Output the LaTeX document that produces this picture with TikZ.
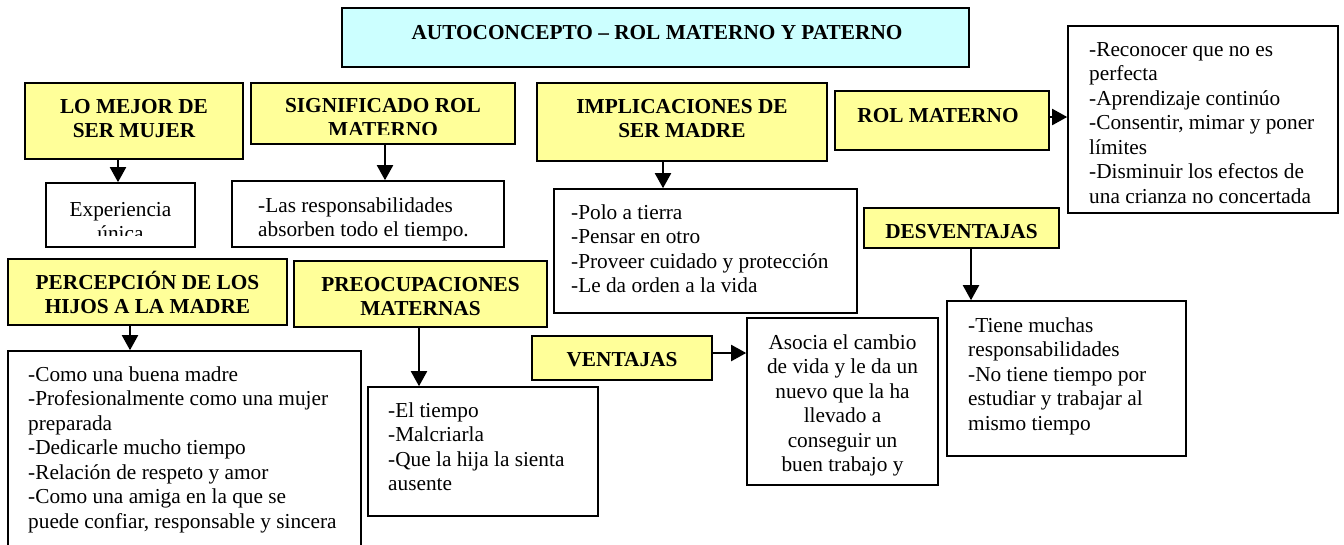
\documentclass[tikz,border=0pt]{standalone}
\usepackage{fontspec}
\setmainfont{Liberation Serif}
\usetikzlibrary{arrows.meta}
\definecolor{hdrfill}{HTML}{FFFF99}
\definecolor{titlefill}{HTML}{CCFFFF}
\newcommand\mytl[2]{\vtop{\hsize=#1\relax\parindent=0pt\parskip=0pt\raggedright #2\par}}
\newcommand\mytc[2]{\vtop{\hsize=#1\relax\parindent=0pt\parskip=0pt\centering #2\par}}
\tikzset{
  box/.style={draw, line width=1.6pt, fill=white, inner sep=0pt, rectangle},
  hdr/.style={box, fill=hdrfill},
  txt/.style={inner sep=0pt, font=\fontsize{21.3}{24.5}\selectfont},
  htxt/.style={inner sep=0pt, font=\fontsize{21.3}{24}\selectfont\bfseries},
  arr/.style={line width=2pt, -{Triangle[width=16pt,length=15pt]}}
}
\begin{document}
\begin{tikzpicture}[x=1pt,y=-1pt]
\clip (0,0) rectangle (1344,544);
\useasboundingbox (0,0) rectangle (1344,544);

% title
\node[box, fill=titlefill, minimum width=627pt, minimum height=59pt] (title) at (655.5,37.5) {};
\node[htxt, anchor=base] (titleT) at (657,39) {AUTOCONCEPTO -- ROL MATERNO Y PATERNO};

% header boxes
\node[hdr, minimum width=218pt, minimum height=76pt] (lomejor) at (134,121) {};
\node[htxt, anchor=base] (lomejorT) at (134,113) {\mytc{210pt}{LO MEJOR DE\\SER MUJER}};

\node[hdr, minimum width=264pt, minimum height=61pt] (signif) at (383,113.5) {};
\begin{scope}
\clip (signif.north west) rectangle ([yshift=10pt]signif.south east);
\node[htxt, anchor=base] (signifT) at (383,112) {\mytc{256pt}{SIGNIFICADO ROL\\MATERNO}};
\end{scope}

\node[hdr, minimum width=290pt, minimum height=78pt] (implic) at (682,122) {};
\node[htxt, anchor=base] (implicT) at (682,113) {\mytc{280pt}{IMPLICACIONES DE\\SER MADRE}};

\node[hdr, minimum width=214pt, minimum height=59pt] (rol) at (942,120.5) {};
\node[htxt, anchor=base] (rolT) at (938,122) {ROL MATERNO};

\node[hdr, minimum width=195pt, minimum height=40pt] (desv) at (961.5,228) {};
\node[htxt, anchor=base] (desvT) at (961.5,238) {DESVENTAJAS};

\node[hdr, minimum width=279pt, minimum height=66pt] (percep) at (147.5,292) {};
\node[htxt, anchor=base] (percepT) at (147.5,289) {\mytc{275pt}{PERCEPCIÓN DE LOS\\HIJOS A LA MADRE}};

\node[hdr, minimum width=253pt, minimum height=66pt] (preoc) at (420.5,294) {};
\node[htxt, anchor=base] (preocT) at (420.5,291) {\mytc{245pt}{PREOCUPACIONES\\MATERNAS}};

\node[hdr, minimum width=180pt, minimum height=44pt] (vent) at (622,358) {};
\node[htxt, anchor=base] (ventT) at (622,366) {VENTAJAS};

% content boxes
\node[box, minimum width=149pt, minimum height=64pt] (exp) at (120.5,215) {};
\begin{scope}
\clip (exp.north west) rectangle ([yshift=12pt]exp.south east);
\node[txt, anchor=base] (expT) at (120.5,216) {\mytc{145pt}{Experiencia\\única}};
\end{scope}

\node[box, minimum width=272pt, minimum height=66pt] (resp) at (368,214) {};
\begin{scope}
\clip (resp.north west) rectangle ([yshift=6pt]resp.south east);
\node[txt, anchor=base west] (respT) at (258,212) {\mytl{244pt}{-Las responsabilidades\\absorben todo el tiempo.}};
\end{scope}

\node[box, minimum width=303pt, minimum height=124pt] (impbox) at (705.5,251) {};
\node[txt, anchor=base west] (impboxT) at (571,219) {\mytl{284pt}{-Polo a tierra\\-Pensar en otro\\-Proveer cuidado y protección\\-Le da orden a la vida}};

\node[box, minimum width=270pt, minimum height=187pt] (rolbox) at (1203,119.5) {};
\node[txt, anchor=base west] (rolboxT) at (1089,56) {\mytl{248pt}{-Reconocer que no es\\perfecta\\-Aprendizaje continúo\\-Consentir, mimar y poner\\límites\\-Disminuir los efectos de\\una crianza no concertada}};

\node[box, minimum width=239pt, minimum height=155pt] (desvbox) at (1066.5,378.5) {};
\node[txt, anchor=base west] (desvboxT) at (968,332) {\mytl{216pt}{-Tiene muchas\\responsabilidades\\-No tiene tiempo por\\estudiar y trabajar al\\mismo tiempo}};

\node[box, minimum width=353pt, minimum height=209pt] (percbox) at (184.5,455.5) {};
\node[txt, anchor=base west] (percboxT) at (28,381) {\mytl{332pt}{-Como una buena madre\\-Profesionalmente como una mujer\\preparada\\-Dedicarle mucho tiempo\\-Relación de respeto y amor\\-Como una amiga en la que se\\puede confiar, responsable y sincera}};

\node[box, minimum width=230pt, minimum height=129pt] (preocbox) at (483,451.5) {};
\node[txt, anchor=base west] (preocboxT) at (388,417) {\mytl{208pt}{-El tiempo\\-Malcriarla\\-Que la hija la sienta\\ausente}};

\node[box, minimum width=191pt, minimum height=167pt] (asocia) at (842.5,401.5) {};
\begin{scope}
\clip (asocia.north west) rectangle ([yshift=9pt]asocia.south east);
\node[txt, anchor=base] (asociaT) at (842.5,349) {\mytc{185pt}{Asocia el cambio\\de vida y le da un\\nuevo que la ha\\llevado a\\conseguir un\\buen trabajo y}};
\end{scope}

% connectors
\coordinate (ax1) at (118,0);
\coordinate (ax2) at (385,0);
\coordinate (ax3) at (663,0);
\coordinate (ax5) at (971,0);
\coordinate (ax6) at (130,0);
\coordinate (ax7) at (419,0);
\coordinate (ay4) at (0,117);
\coordinate (ay8) at (0,353);
\draw[arr] (lomejor.south -| ax1) -- (exp.north -| ax1);
\draw[arr] (signif.south -| ax2) -- (resp.north -| ax2);
\draw[arr] (implic.south -| ax3) -- (impbox.north -| ax3);
\draw[arr] (rol.east |- ay4) -- (rolbox.west |- ay4);
\draw[arr] (desv.south -| ax5) -- (desvbox.north -| ax5);
\draw[arr] (percep.south -| ax6) -- (percbox.north -| ax6);
\draw[arr] (preoc.south -| ax7) -- (preocbox.north -| ax7);
\draw[arr] (vent.east |- ay8) -- (asocia.west |- ay8);
\end{tikzpicture}
\end{document}
